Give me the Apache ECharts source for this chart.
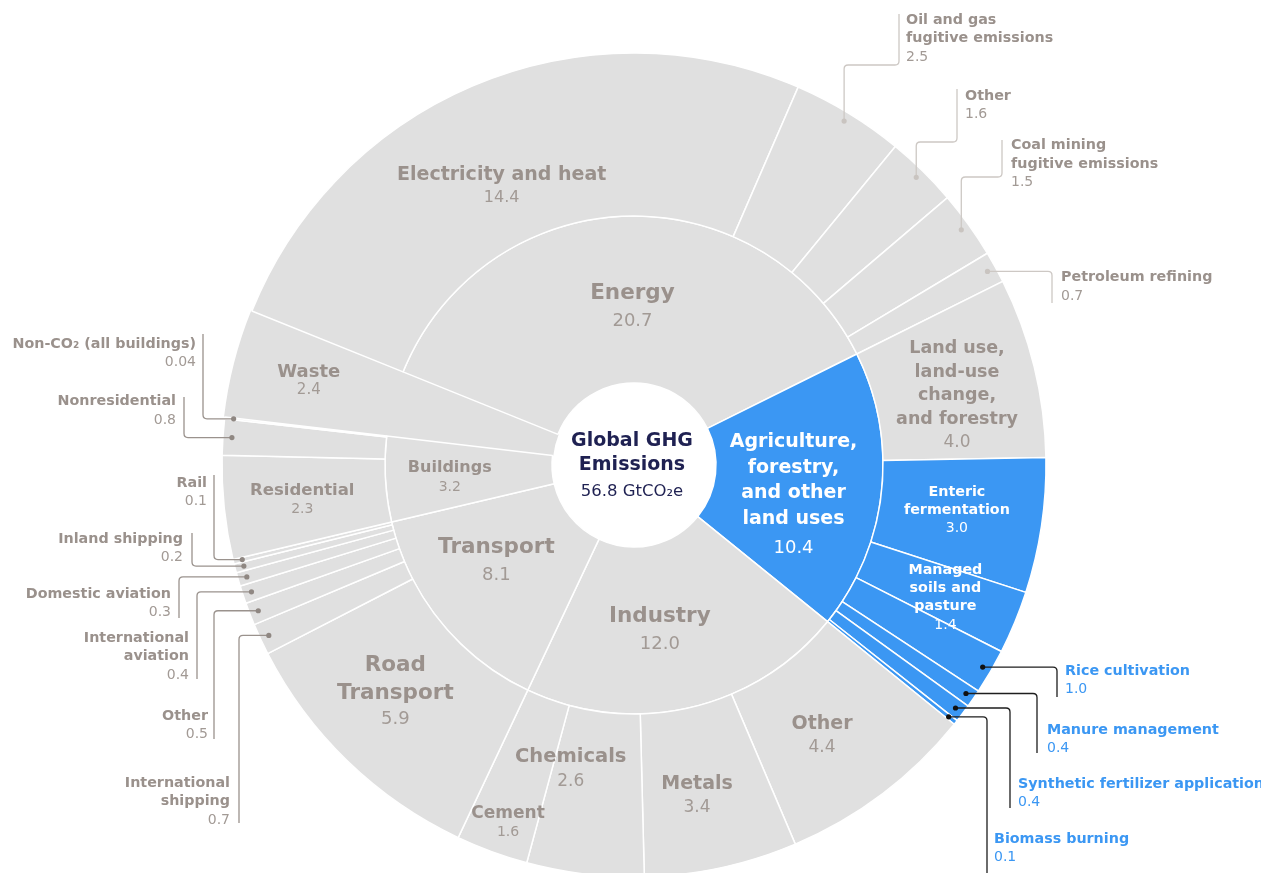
<!DOCTYPE html>
<html>
<head>
<meta charset="utf-8">
<script src="https://cdn.jsdelivr.net/npm/echarts@6/dist/echarts.min.js"></script>
<style>
html,body{margin:0;padding:0;background:#ffffff;}
#chart{width:1261px;height:873px;}
</style>
</head>
<body>
<div id="chart"></div>
<script>
// ---------------- DATA ----------------
const totalName = 'Global GHG Emissions';
const totalValue = 56.8;
const totalUnit = 'GtCO₂e';

// sectors in clockwise drawing order
const sectorNames = ['Waste', 'Energy', 'Agriculture, forestry, and other land uses', 'Industry', 'Transport', 'Buildings'];
const sectorValues = [2.4, 20.7, 10.4, 12.0, 8.1, 3.2];

const wasteNames = ['Waste'];
const wasteValues = [2.4];

const energyNames = ['Electricity and heat', 'Oil and gas fugitive emissions', 'Other', 'Coal mining fugitive emissions', 'Petroleum refining'];
const energyValues = [14.4, 2.5, 1.6, 1.5, 0.7];

const agricultureNames = ['Land use, land-use change, and forestry', 'Enteric fermentation', 'Managed soils and pasture', 'Rice cultivation', 'Manure management', 'Synthetic fertilizer application', 'Biomass burning'];
const agricultureValues = [4.0, 3.0, 1.4, 1.0, 0.4, 0.4, 0.1];

const industryNames = ['Other', 'Metals', 'Chemicals', 'Cement'];
const industryValues = [4.4, 3.4, 2.6, 1.6];

const transportNames = ['Road Transport', 'International shipping', 'Other', 'International aviation', 'Domestic aviation', 'Inland shipping', 'Rail'];
const transportValues = [5.9, 0.7, 0.5, 0.4, 0.3, 0.2, 0.1];

const buildingsNames = ['Residential', 'Nonresidential', 'Non-CO₂ (all buildings)'];
const buildingsValues = [2.3, 0.8, 0.04];

const childNames = [wasteNames, energyNames, agricultureNames, industryNames, transportNames, buildingsNames];
const childValues = [wasteValues, energyValues, agricultureValues, industryValues, transportValues, buildingsValues];

const highlighted = ['Agriculture, forestry, and other land uses', 'Enteric fermentation', 'Managed soils and pasture', 'Rice cultivation', 'Manure management', 'Synthetic fertilizer application', 'Biomass burning'];

// ---------------- STYLE / LAYOUT ----------------
const CX = 634, CY = 465;
const R_HOLE = 82, R_MID = 249, R_OUT = 412, DOT_R = 403;
const START_ANGLE = 173.3;
const GREY = '#e0e0e0', BLUE = '#3b97f3', TXT = '#9a918c', TXT_V = '#a29a95', NAVY = '#1f2152';
const FONT = '"DejaVu Sans", "Noto Sans", sans-serif';

const wrap = {
  'Global GHG Emissions': 'Global GHG\nEmissions',
  'Agriculture, forestry, and other land uses': 'Agriculture,\nforestry,\nand other\nland uses',
  'Land use, land-use change, and forestry': 'Land use,\nland-use\nchange,\nand forestry',
  'Enteric fermentation': 'Enteric\nfermentation',
  'Managed soils and pasture': 'Managed\nsoils and\npasture',
  'Road Transport': 'Road\nTransport',
  'Oil and gas fugitive emissions': 'Oil and gas\nfugitive emissions',
  'Coal mining fugitive emissions': 'Coal mining\nfugitive emissions',
  'International aviation': 'International\naviation',
  'International shipping': 'International\nshipping'
};

const labelClass = {
  center: {n: 19, v: 16.5, ln: 24, lv: 30, c: NAVY, cv: NAVY},
  inner:  {n: 21.5, v: 18, ln: 28, lv: 28, c: TXT, cv: TXT_V},
  agri:   {n: 19, v: 18, ln: 25.5, lv: 33, c: '#fff', cv: '#fff'},
  bldg:   {n: 16, v: 14, ln: 19, lv: 19, c: TXT, cv: TXT_V},
  resi:   {n: 16.5, v: 14, ln: 19, lv: 19, c: TXT, cv: TXT_V},
  waste:  {n: 18, v: 15, ln: 18, lv: 18, c: TXT, cv: TXT_V},
  cement: {n: 17, v: 14, ln: 19, lv: 19, c: TXT, cv: TXT_V},
  elec:   {n: 19, v: 16, ln: 23, lv: 23, c: TXT, cv: TXT_V},
  road:   {n: 21.5, v: 18, ln: 28, lv: 24, c: TXT, cv: TXT_V},
  mid:    {n: 19, v: 17, ln: 24, lv: 24, c: TXT, cv: TXT_V},
  chem:   {n: 19.5, v: 17, ln: 25, lv: 25, c: TXT, cv: TXT_V},
  land:   {n: 17.5, v: 17, ln: 23.5, lv: 23, c: TXT, cv: TXT_V},
  white:  {n: 14.3, v: 14, ln: 18, lv: 19, c: '#fff', cv: '#fff'}
};

// key -> [class, dx, dy]
const labelSpec = {
  'Global GHG Emissions': ['center', -2, 3],
  'Energy': ['inner', 5, 8],
  'Agriculture, forestry, and other land uses': ['agri', -5, 14],
  'Industry': ['inner', -11, 4],
  'Transport': ['inner', -9, -8],
  'Buildings': ['bldg', -19, 3],
  'Waste|Waste': ['waste', -5, -2],
  'Energy|Electricity and heat': ['elec', -7, 27],
  'Agriculture, forestry, and other land uses|Land use, land-use change, and forestry': ['land', 2, 9],
  'Agriculture, forestry, and other land uses|Enteric fermentation': ['white', -4, -3],
  'Agriculture, forestry, and other land uses|Managed soils and pasture': ['white', 6, 7],
  'Industry|Other': ['mid', -11, 7],
  'Industry|Metals': ['mid', -7, 8],
  'Industry|Chemicals': ['chem', -24, -24],
  'Industry|Cement': ['cement', -12, 48],
  'Transport|Road Transport': ['road', -9, -11],
  'Buildings|Residential': ['resi', -3, 1]
};

// callouts: kind 'up' = vertical from dot, then across, then up; otherwise across then vertical
const callouts = {
  'Energy|Oil and gas fugitive emissions': {kind: 'up', hy: 65, bx: 899, end: 14, tx: 906, ty: 11, align: 'left'},
  'Energy|Other': {kind: 'up', hy: 142, bx: 957, end: 89, tx: 965, ty: 87, align: 'left'},
  'Energy|Coal mining fugitive emissions': {kind: 'up', hy: 177, bx: 1002, end: 140, tx: 1011, ty: 136.5, align: 'left'},
  'Energy|Petroleum refining': {bx: 1052, end: 303, tx: 1061, ty: 268.5, align: 'left'},
  'Agriculture, forestry, and other land uses|Rice cultivation': {bx: 1057, end: 697, tx: 1065, ty: 662, align: 'left'},
  'Agriculture, forestry, and other land uses|Manure management': {bx: 1037, end: 753, tx: 1047, ty: 721, align: 'left'},
  'Agriculture, forestry, and other land uses|Synthetic fertilizer application': {bx: 1010, end: 808, tx: 1018, ty: 775, align: 'left'},
  'Agriculture, forestry, and other land uses|Biomass burning': {bx: 987, end: 880, tx: 994, ty: 830, align: 'left'},
  'Buildings|Non-CO₂ (all buildings)': {bx: 203, end: 334, tx: 196, ty: 335, align: 'right'},
  'Buildings|Nonresidential': {bx: 184, end: 397, tx: 176, ty: 392.5, align: 'right'},
  'Transport|Rail': {bx: 214, end: 475, tx: 207, ty: 474, align: 'right'},
  'Transport|Inland shipping': {bx: 192, end: 533, tx: 183, ty: 530, align: 'right'},
  'Transport|Domestic aviation': {bx: 179, end: 618, tx: 171, ty: 585, align: 'right'},
  'Transport|International aviation': {bx: 197, end: 679, tx: 189, ty: 629, align: 'right'},
  'Transport|Other': {bx: 214, end: 739, tx: 208, ty: 707, align: 'right'},
  'Transport|International shipping': {bx: 239, end: 823, tx: 230, ty: 774, align: 'right'}
};

// ---------------- BUILD ----------------
function fmt(v) { return v < 0.1 ? String(v) : v.toFixed(1); }
function isBlue(n) { return highlighted.indexOf(n) >= 0; }

function makeLabel(key, name, valueText) {
  const spec = labelSpec[key];
  if (!spec) return {show: false};
  const c = labelClass[spec[0]];
  const lines = (wrap[name] || name).split('\n').map(function (l) { return '{n|' + l + '}'; });
  lines.push('{v|' + valueText + '}');
  return {
    show: true,
    rotate: 0,
    formatter: lines.join('\n'),
    rich: {
      n: {fontFamily: FONT, fontWeight: 'bold', fontSize: c.n, lineHeight: c.ln, color: c.c, align: 'center'},
      v: {fontFamily: FONT, fontWeight: 'normal', fontSize: c.v, lineHeight: c.lv, color: c.cv, align: 'center'}
    }
  };
}

function styleFor(sector, name) {
  if (sector === 'Waste') {
    // Waste spans both rings: hide the seam between its two rings
    return {color: GREY, borderColor: GREY, borderWidth: 1.5};
  }
  return {color: isBlue(name) ? BLUE : GREY, borderColor: '#ffffff', borderWidth: 1.5};
}

const order = [null, totalName]; // pre-order data indices (0 = virtual root)
const rootItem = {
  name: totalName,
  itemStyle: {color: '#ffffff', borderWidth: 0},
  label: makeLabel(totalName, totalName, fmt(totalValue) + ' ' + totalUnit),
  children: []
};
sectorNames.forEach(function (s, i) {
  const sec = {
    name: s,
    itemStyle: styleFor(s, s),
    label: makeLabel(s, s, fmt(sectorValues[i])),
    children: []
  };
  order.push(s);
  rootItem.children.push(sec);
  childNames[i].forEach(function (n, j) {
    const key = s + '|' + n;
    order.push(key);
    sec.children.push({
      name: n,
      value: childValues[i][j],
      itemStyle: styleFor(s, n),
      label: makeLabel(key, n, fmt(childValues[i][j]))
    });
  });
});

// callout points placed through the polar scale at each leaf's mid value
const calloutList = [];
const calloutData = [];
let cum = 0;
sectorNames.forEach(function (s, i) {
  childNames[i].forEach(function (n, j) {
    const v = childValues[i][j];
    const key = s + '|' + n;
    if (callouts[key]) {
      calloutList.push(Object.assign({name: n, value: v, blue: isBlue(n)}, callouts[key]));
      calloutData.push([DOT_R, cum + v / 2]);
    }
    cum += v;
  });
});
const leafTotal = cum;

function roundedPath(pts, r) {
  let d = 'M' + pts[0][0] + ' ' + pts[0][1];
  for (let i = 1; i < pts.length - 1; i++) {
    const x0 = pts[i - 1][0], y0 = pts[i - 1][1], x1 = pts[i][0], y1 = pts[i][1], x2 = pts[i + 1][0], y2 = pts[i + 1][1];
    const l1 = Math.hypot(x1 - x0, y1 - y0) || 1, l2 = Math.hypot(x2 - x1, y2 - y1) || 1;
    const rr = Math.min(r, l1 / 2, l2 / 2);
    const ax = x1 - (x1 - x0) / l1 * rr, ay = y1 - (y1 - y0) / l1 * rr;
    const bx = x1 + (x2 - x1) / l2 * rr, by = y1 + (y2 - y1) / l2 * rr;
    d += ' L' + ax + ' ' + ay + ' Q' + x1 + ' ' + y1 + ' ' + bx + ' ' + by;
  }
  const last = pts[pts.length - 1];
  d += ' L' + last[0] + ' ' + last[1];
  return d;
}

const chart = echarts.init(document.getElementById('chart'), null, {renderer: 'canvas'});

const option = {
  backgroundColor: '#ffffff',
  animation: false,
  polar: {center: [CX, CY], radius: [0, R_OUT]},
  angleAxis: {
    type: 'value', min: 0, max: leafTotal, startAngle: START_ANGLE, clockwise: true, show: false,
    axisLine: {show: false}, axisTick: {show: false}, axisLabel: {show: false}, splitLine: {show: false}
  },
  radiusAxis: {
    type: 'value', min: 0, max: R_OUT, show: false,
    axisLine: {show: false}, axisTick: {show: false}, axisLabel: {show: false}, splitLine: {show: false}
  },
  series: [
    {
      type: 'sunburst',
      center: [CX, CY],
      radius: [0, R_OUT],
      startAngle: START_ANGLE,
      clockwise: true,
      sort: null,
      nodeClick: false,
      silent: true,
      z: 2,
      data: [rootItem],
      itemStyle: {borderColor: '#ffffff', borderWidth: 1.5},
      label: {rotate: 0, color: TXT, fontFamily: FONT},
      levels: [
        {},
        {radius: [0, R_HOLE], itemStyle: {color: '#ffffff', borderWidth: 0}},
        {radius: [R_HOLE, R_MID]},
        {radius: [R_MID, R_OUT]}
      ],
      labelLayout: function (p) {
        const key = order[p.dataIndex];
        const s = key && labelSpec[key];
        return s ? {dx: s[1], dy: s[2]} : {};
      }
    },
    {
      type: 'custom',
      coordinateSystem: 'polar',
      clip: false,
      silent: true,
      z: 10,
      data: calloutData,
      renderItem: function (params, api) {
        const c = calloutList[params.dataIndex];
        const pt = api.coord([api.value(0), api.value(1)]);
        let pts;
        if (c.kind === 'up') {
          pts = [pt, [pt[0], c.hy], [c.bx, c.hy], [c.bx, c.end]];
        } else {
          pts = [pt, [c.bx, pt[1]], [c.bx, c.end]];
        }
        const right = c.align === 'left';
        const lineColor = c.blue ? '#1e1e1e' : (right ? '#cdc8c4' : '#9a928d');
        const dotColor = c.blue ? '#111111' : (right ? '#c9c4c0' : '#8f8782');
        const col = c.blue ? BLUE : TXT;
        const colV = c.blue ? BLUE : TXT_V;
        const lines = (wrap[c.name] || c.name).split('\n').map(function (l) { return '{n|' + l + '}'; });
        lines.push('{v|' + fmt(c.value) + '}');
        return {
          type: 'group',
          children: [
            {
              type: 'path',
              shape: {pathData: roundedPath(pts, 4)},
              style: {stroke: lineColor, lineWidth: 1.3, fill: 'none'}
            },
            {
              type: 'circle',
              shape: {cx: pt[0], cy: pt[1], r: 2.6},
              style: {fill: dotColor}
            },
            {
              type: 'text',
              x: c.tx,
              y: c.ty,
              style: {
                text: lines.join('\n'),
                align: c.align,
                verticalAlign: 'top',
                fill: col,
                rich: {
                  n: {fontFamily: FONT, fontWeight: 'bold', fontSize: 14.3, lineHeight: 18.5, fill: col},
                  v: {fontFamily: FONT, fontWeight: 'normal', fontSize: 14, lineHeight: 18.5, fill: colV}
                }
              }
            }
          ]
        };
      }
    }
  ]
};
chart.setOption(option);
</script>
</body>
</html>
